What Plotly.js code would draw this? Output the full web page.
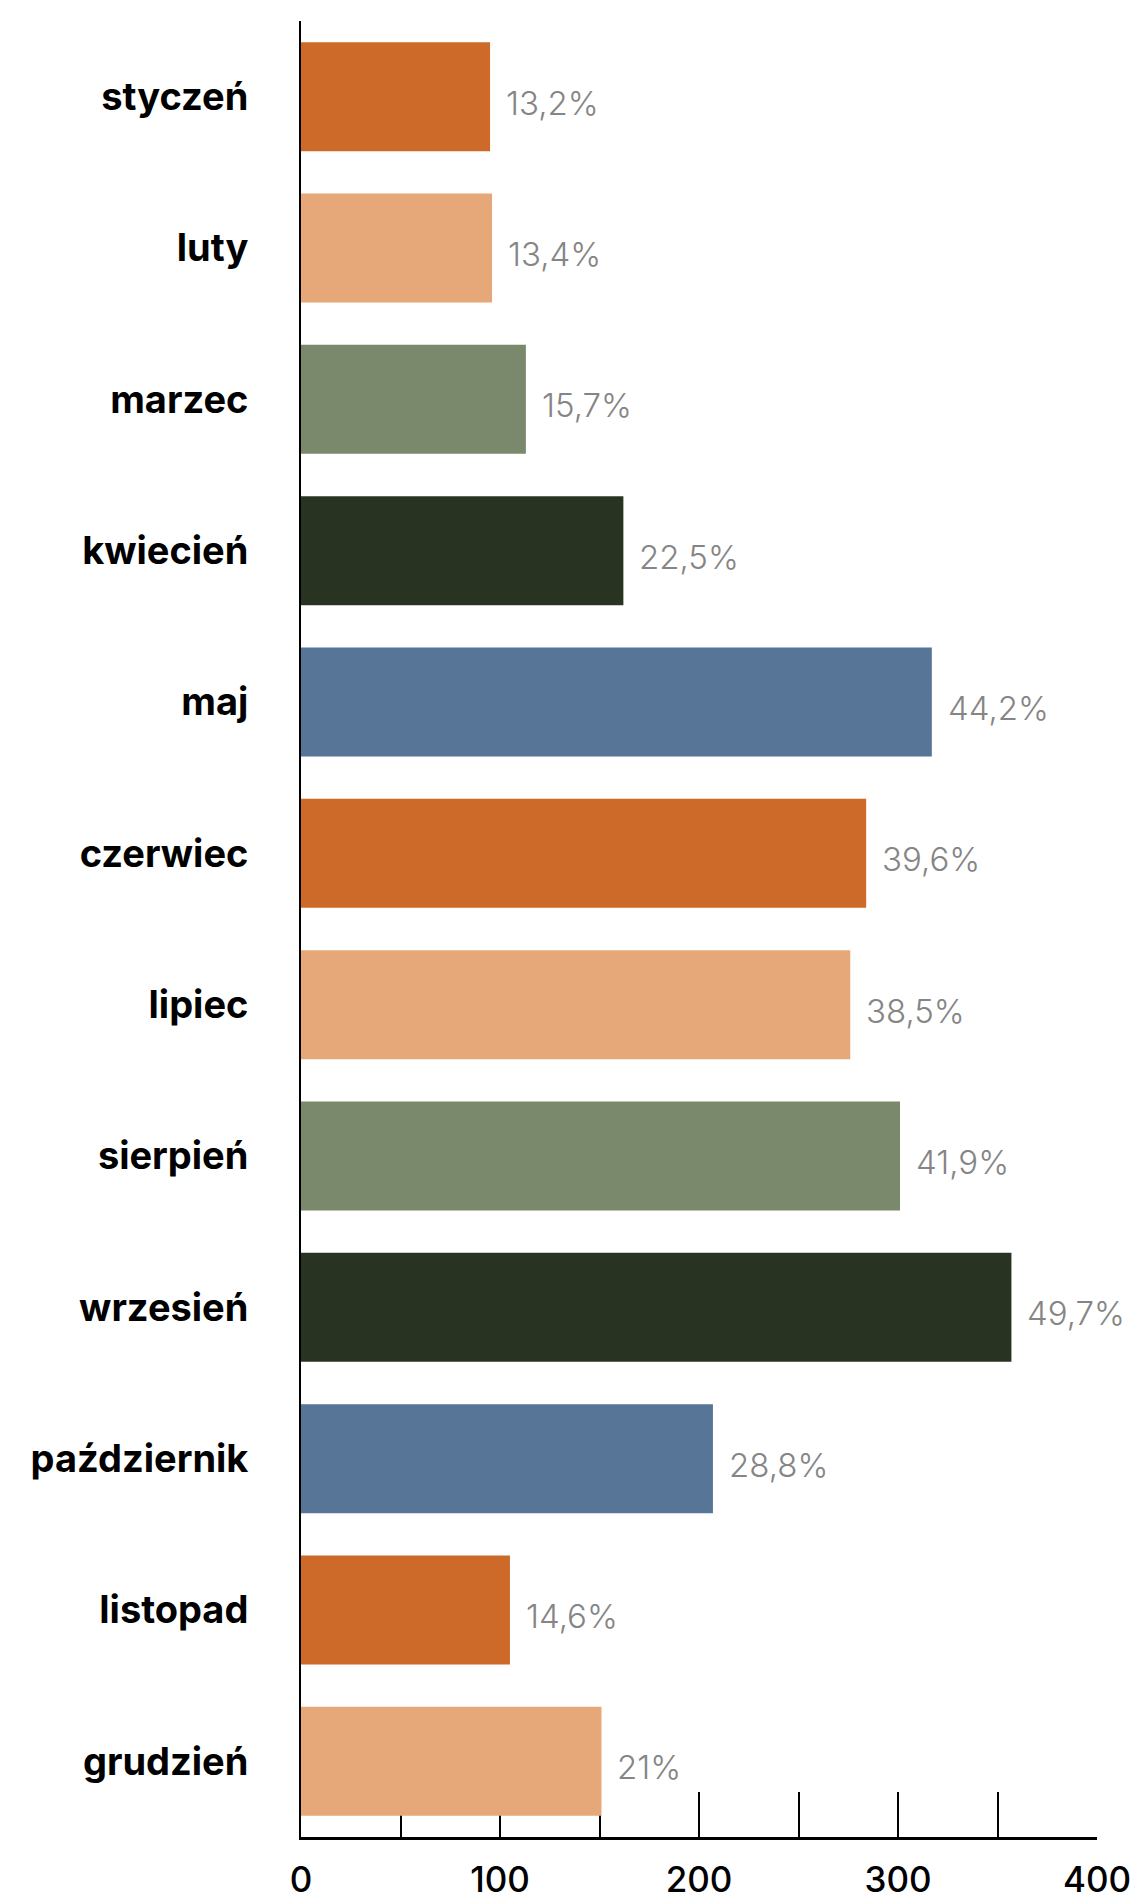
<!DOCTYPE html>
<html>
<head>
<meta charset="utf-8">
<script src="https://cdn.plot.ly/plotly-3.0.1.min.js"></script>
<style>html,body{margin:0;padding:0;background:#fff;}</style>
</head>
<body>
<div id="chart" style="width:1136px;height:1899px;"></div>
<script>
const months = ["styczeń","luty","marzec","kwiecień","maj","czerwiec","lipiec","sierpień","wrzesień","październik","listopad","grudzień"];
const values = [95, 96, 113, 162, 317, 284, 276, 301, 357, 207, 105, 151];
const shares = ["13,2%","13,4%","15,7%","22,5%","44,2%","39,6%","38,5%","41,9%","49,7%","28,8%","14,6%","21%"];
const barColors = ["#CD6A2A","#E6A879","#7A886B","#283421","#577596","#CD6A2A","#E6A879","#7A886B","#283421","#577596","#CD6A2A","#E6A879"];
const xTicks = [0, 100, 200, 300, 400];
const xMinorTicks = [50, 150, 250, 350];

const trace = {
  type: 'bar',
  orientation: 'h',
  y: months,
  x: values,
  marker: {color: barColors, line: {width: 0}},
  hoverinfo: 'none'
};

const annotations = months.map((m, i) => ({
  x: values[i], y: m, xref: 'x', yref: 'y',
  text: shares[i], showarrow: false,
  xanchor: 'left', yanchor: 'middle', xshift: 14, yshift: -6,
  font: {family: 'Inter, "Noto Sans", sans-serif', size: 33, color: '#858585', weight: 300}
}));

const layout = {
  width: 1136, height: 1899,
  margin: {l: 301, r: 39, t: 21, b: 62},
  paper_bgcolor: '#fff', plot_bgcolor: '#fff',
  showlegend: false,
  bargap: 0.28,
  xaxis: {
    range: [0, 400],
    showgrid: false, zeroline: false,
    showline: true, linecolor: '#000', linewidth: 2.5,
    ticks: 'inside', ticklen: 45, tickwidth: 2, tickcolor: '#000',
    tickvals: xTicks, ticktext: xTicks.map(String),
    minor: {tickvals: xMinorTicks, ticks: 'inside', ticklen: 45, tickwidth: 2, tickcolor: '#000', showgrid: false},
    tickfont: {family: 'Inter, "Noto Sans", sans-serif', size: 35, color: '#000', weight: 500},
    ticklabelstandoff: 10,
    layer: 'below traces',
    fixedrange: true
  },
  yaxis: {
    type: 'category',
    autorange: false, range: [11.5, -0.5],
    showgrid: false, zeroline: false,
    showline: true, linecolor: '#000', linewidth: 2,
    ticks: '',
    tickfont: {family: 'Inter, "Noto Sans", sans-serif', size: 38, color: '#000', weight: 700},
    ticklabelstandoff: 43,
    layer: 'below traces',
    fixedrange: true
  },
  annotations: annotations
};

Plotly.newPlot('chart', [trace], layout, {displayModeBar: false, staticPlot: true});
</script>
</body>
</html>
